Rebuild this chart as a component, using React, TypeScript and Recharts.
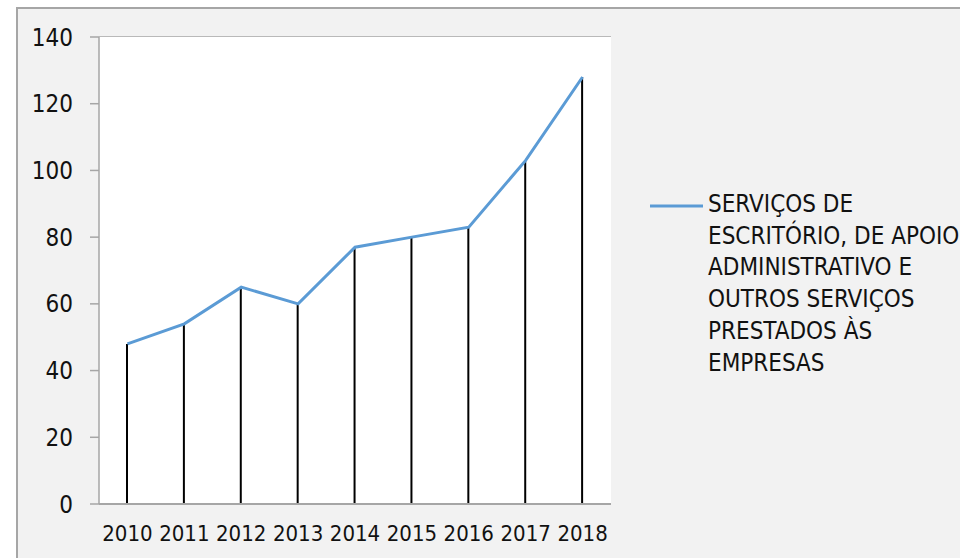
import React from 'react'
import { ComposedChart, Bar, Line, XAxis, YAxis, CartesianGrid, Legend } from 'recharts'

// valores
const years = ['2010', '2011', '2012', '2013', '2014', '2015', '2016', '2017', '2018']
const values = [48, 54, 65, 60, 77, 80, 83, 103, 128]
const yTicks = [0, 20, 40, 60, 80, 100, 120, 140]
const seriesName = 'SERVIÇOS DE ESCRITÓRIO, DE APOIO ADMINISTRATIVO E OUTROS SERVIÇOS PRESTADOS ÀS EMPRESAS'
const legendLines = ['SERVIÇOS DE', 'ESCRITÓRIO, DE APOIO', 'ADMINISTRATIVO E', 'OUTROS SERVIÇOS', 'PRESTADOS ÀS', 'EMPRESAS']

const data = years.map((year, i) => ({ year, value: values[i] }))

const FONT = '"Liberation Sans Narrow", "DejaVu Sans Condensed", "Roboto", sans-serif'
const GRID = '#a6a6a6'
const BLUE = '#5b9bd5'

function LegendBox() {
  return (
    <div style={{ position: 'relative', fontFamily: FONT, fontSize: 24, color: '#111', lineHeight: '31.7px' }}>
      <svg width={56} height={6} style={{ position: 'absolute', left: 0, top: 14 }}>
        <line x1={0} y1={3} x2={53} y2={3} stroke={BLUE} strokeWidth={3} />
      </svg>
      <div style={{ marginLeft: 58, whiteSpace: 'nowrap' }}>
        {legendLines.map(l => <div key={l}>{l}</div>)}
      </div>
    </div>
  )
}

export default function App() {
  return (
    <div style={{ position: 'absolute', left: 0, top: 0, width: 960, height: 558, background: '#fff', overflow: 'hidden' }}>
      <div style={{ position: 'absolute', left: 16, top: 7, width: 960, height: 560, borderLeft: `2px solid ${GRID}`, borderTop: `2px solid ${GRID}`, background: '#f2f2f2' }} />
      <div style={{ position: 'absolute', left: 0, top: 0 }}>
        <ComposedChart width={960} height={558} data={data} margin={{ top: 37, right: 39, bottom: 14, left: 0 }} barCategoryGap={0}>
          <rect x={99} y={37} width={512} height={467} fill="#fff" />
          <CartesianGrid vertical={false} stroke={GRID} strokeWidth={1.5} />
          <XAxis
            dataKey="year"
            height={40}
            tickSize={0}
            tickMargin={21}
            axisLine={{ stroke: GRID, strokeWidth: 2 }}
            tick={{ fontFamily: FONT, fontSize: 22, fill: '#111' }}
            interval={0}
          />
          <YAxis
            width={99}
            domain={[0, 140]}
            ticks={yTicks}
            tickSize={9}
            tickMargin={17}
            axisLine={{ stroke: GRID, strokeWidth: 1.5 }}
            tickLine={{ stroke: GRID, strokeWidth: 1.5 }}
            tick={{ fontFamily: FONT, fontSize: 24, fill: '#111' }}
          />
          <Bar dataKey="value" barSize={2} fill="#000" isAnimationActive={false} legendType="none" />
          <Line
            type="linear"
            dataKey="value"
            name={seriesName}
            stroke={BLUE}
            strokeWidth={3}
            dot={false}
            activeDot={false}
            isAnimationActive={false}
          />
          <Legend
            layout="vertical"
            verticalAlign="top"
            align="right"
            wrapperStyle={{ left: 650, top: 189, width: 310 }}
            content={() => <LegendBox />}
          />
        </ComposedChart>
      </div>
    </div>
  )
}
